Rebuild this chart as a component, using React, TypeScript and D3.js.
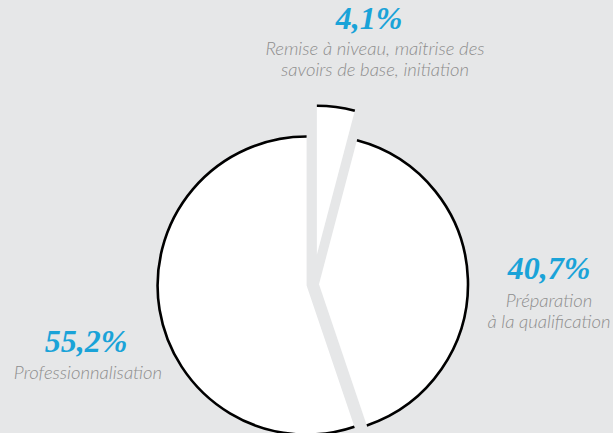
import React from "react";
import * as d3 from "d3";

const categories = ["Remise à niveau", "Préparation à la qualification", "Professionnalisation"];
const values = [4.1, 40.7, 55.2];
const valueLabels = ["4,1%", "40,7%", "55,2%"];
const labelLines = [
  ["Remise à niveau, maîtrise des", "savoirs de base, initiation"],
  ["Préparation", "à la qualification"],
  ["Professionnalisation"],
];

// styling / layout parameters
const W = 613;
const H = 433;
const CX = 313;
const CY = 284.5;
const R = 149;
const explode = [30, 6, 6.5];
const numPos = [
  { x: 369, y: 29 },
  { x: 549, y: 279 },
  { x: 86, y: 352 },
];
const labelPos = [
  { x: 375, y: 55 },
  { x: 549, y: 307 },
  { x: 88, y: 379 },
];
const BG = "#e6e7e8";
const BLUE = "#1aa3d8";
const GREY = "#8e8e8e";

export default function App() {
  const pie = d3
    .pie<number>()
    .sort(null)
    .value((d) => d);
  const arcs = pie(values);
  const arcGen = d3.arc<d3.PieArcDatum<number>>().innerRadius(0).outerRadius(R);

  return (
    <svg
      width={W}
      height={H}
      style={{ position: "absolute", left: 0, top: 0, background: BG }}
    >
      <rect width={W} height={H} fill={BG} />
      <g transform={`translate(${CX},${CY})`}>
        {arcs.map((a, i) => {
          const mid = (a.startAngle + a.endAngle) / 2;
          const dx = Math.sin(mid) * explode[i];
          const dy = -Math.cos(mid) * explode[i];
          const p = d3.path();
          p.arc(0, 0, R, a.startAngle - Math.PI / 2, a.endAngle - Math.PI / 2, false);
          return (
            <g key={categories[i]} transform={`translate(${dx},${dy})`}>
              <path d={arcGen(a) || ""} fill="#ffffff" />
              <path d={p.toString()} fill="none" stroke="#000" strokeWidth={2.6} />
            </g>
          );
        })}
      </g>
      {valueLabels.map((v, i) => (
        <g key={v}>
          <text
            x={numPos[i].x}
            y={numPos[i].y}
            textAnchor="middle"
            fontFamily="'Liberation Serif', serif"
            fontWeight="bold"
            fontStyle="italic"
            fontSize={32}
            fill={BLUE}
          >
            {v}
          </text>
          {labelLines[i].map((line, j) => (
            <text
              key={line}
              x={labelPos[i].x}
              y={labelPos[i].y + j * 21}
              textAnchor="middle"
              fontFamily="Lato, 'Open Sans', sans-serif"
              fontStyle="italic"
              fontWeight={300}
              fontSize={18.5}
              fill={GREY}
            >
              {line}
            </text>
          ))}
        </g>
      ))}
    </svg>
  );
}
